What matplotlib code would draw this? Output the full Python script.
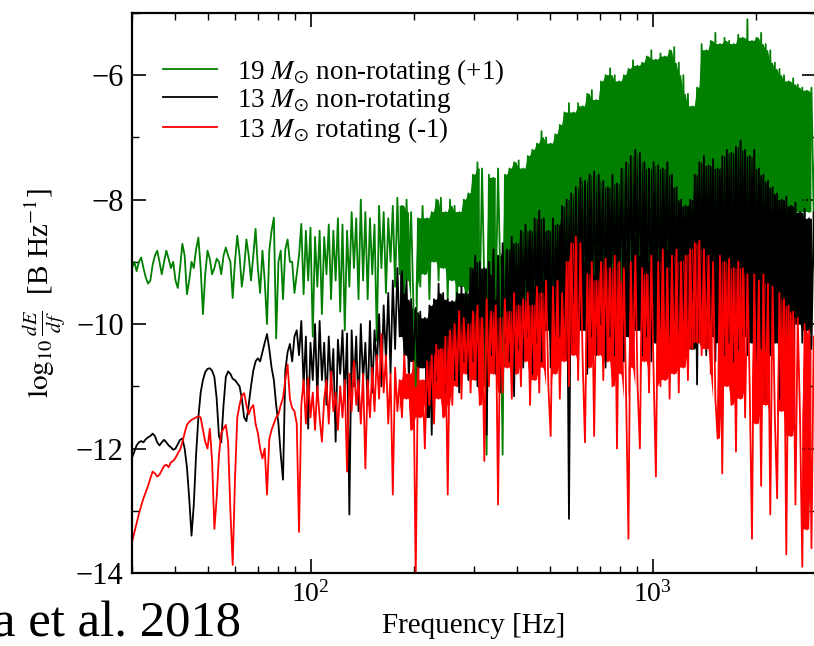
import matplotlib
matplotlib.use('Agg')
import matplotlib.pyplot as plt
import numpy as np
from matplotlib.ticker import LogLocator, NullFormatter, MultipleLocator

# spectra are sampled on a log-spaced grid between these frequencies [Hz]
F_MIN, F_MAX = 30.0, 3000.0
# above this the spectra are too dense to show as a single trace
F_DENSE = 180.0

# log10 dE/df [B Hz^-1], unshifted
dEdf_19_nonrot = [
    -10.1, -10.0, -10.15, -10.0, -9.93, -10.1, -10.25, -10.35, -10.3, -10.05,
    -9.9, -9.82, -10.0, -10.2, -10.0, -9.82, -9.95, -10.1, -10.0, -10.3,
    -10.42, -10.1, -9.71, -9.9, -10.52, -10.3, -10.0, -10.1, -9.8, -9.61,
    -10.1, -10.84, -10.2, -9.82, -9.95, -10.2, -10.1, -9.95, -10.0, -10.2,
    -9.9, -9.77, -9.9, -10.0, -10.58, -10.0, -9.58, -9.9, -10.4, -10.1,
    -9.64, -9.9, -10.3, -9.9, -9.47, -10.1, -10.5, -9.82, -10.3, -11.0,
    -9.82, -9.5, -9.29, -11.23, -10.0, -9.82, -10.6, -9.8, -9.64, -10.0,
    -10.0, -10.5, -10.2, -9.9, -9.39, -10.52, -9.5, -10.3, -9.45, -11.2,
    -9.6, -10.4, -9.5, -10.84, -9.6, -10.2, -9.4, -10.6, -9.5, -10.3,
    -9.3, -10.8, -9.4, -11.1, -9.5, -10.4, -9.2, -10.1, -9.3, -10.6,
    -9.0, -10.3, -9.2, -10.6, -9.3, -10.2, -9.4, -11.27, -9.1, -10.1,
    -9.2, -10.5, -9.3, -10.0, -9.1, -10.4, -8.97, -10.2, -9.1, -10.5,
    -9.0, -10.3, -9.2, -10.7, -12.0, -9.3, -10.4, -9.1, -10.2, -9.3,
    -10.6, -9.2, -10.0, -9.0, -10.3, -8.97, -10.1, -9.2, -10.6, -9.0,
    -10.3, -9.1, -10.8, -9.2, -10.4, -9.0, -10.8, -8.9, -10.5, -8.6,
    -10.3, -8.4, -10.7, -8.5, -10.4, -13.1, -8.6, -10.2, -8.65, -10.6,
    -8.5, -10.3, -13.1, -8.6, -10.5, -8.5, -10.0, -8.4, -10.4, -8.37,
    -10.2, -8.5, -10.6, -8.3, -10.0, -8.2, -10.4, -8.1, -9.9, -7.9,
    -10.3, -8.0, -9.8, -8.1, -10.5, -7.95, -10.0, -7.8, -9.7, -7.6,
    -10.2, -7.45, -9.9, -7.6, -10.4, -7.45, -9.6, -7.5, -10.0, -7.3,
    -9.7, -7.24, -10.2, -7.4, -9.8, -7.1, -10.0, -7.0, -9.6, -6.89,
    -10.1, -7.0, -9.7, -7.1, -10.3, -7.0, -9.8, -6.9, -10.0, -6.76,
    -9.6, -6.85, -9.9, -6.8, -9.5, -6.7, -10.0, -6.6, -9.7, -6.75,
    -9.9, -6.65, -9.6, -6.7, -9.8, -6.6, -9.5, -6.55, -9.7, -6.8,
    -9.4, -7.0, -9.3, -7.3, -9.2, -7.5, -9.3, -7.2, -9.2, -6.5,
    -9.3, -6.6, -9.1, -6.45, -9.25, -6.32, -9.2, -6.5, -9.3, -6.4,
    -9.2, -6.45, -9.3, -6.5, -9.15, -6.35, -9.25, -6.4, -9.2, -6.1,
    -9.3, -6.45, -9.2, -6.4, -9.25, -6.32, -9.1, -6.5, -9.3, -6.6,
    -9.2, -6.8, -9.25, -6.9, -9.15, -7.0, -9.3, -7.1, -9.2, -7.05,
    -9.25, -7.15, -9.2, -7.2, -9.3, -7.25, -9.2, -7.2, -9.3, -7.3,
]

dEdf_13_nonrot = [
    -12.15, -12.05, -11.95, -11.9, -11.88, -11.9, -11.85, -11.82, -11.8, -11.76,
    -11.8, -11.9, -11.95, -11.9, -11.86, -11.9, -11.95, -11.98, -12.02, -12.0,
    -11.93, -11.86, -11.84, -12.0, -12.3, -12.8, -13.4, -12.9, -12.1, -11.5,
    -11.1, -10.9, -10.77, -10.72, -10.71, -10.75, -10.85, -11.2, -11.8, -11.9,
    -11.3, -10.85, -10.76, -10.8, -10.88, -10.9, -10.95, -11.0, -11.2, -11.5,
    -11.56, -11.3, -11.0, -10.75, -10.6, -10.55, -10.6, -10.45, -10.3, -10.16,
    -10.4, -10.7, -10.9, -11.3, -11.6, -12.1, -12.5, -10.75, -10.45, -10.32,
    -10.6, -10.2, -10.1, -10.5, -9.95, -11.0, -10.2, -11.68, -10.3, -10.9,
    -10.0, -11.2, -9.95, -10.9, -10.3, -11.3, -10.2, -11.0, -10.4, -11.89,
    -10.25, -10.8, -10.1, -11.2, -10.15, -13.06, -10.1, -11.0, -10.2, -11.4,
    -10.0, -10.9, -10.3, -11.3, -9.95, -11.1, -10.1, -10.7, -9.84, -11.0,
    -9.7, -10.6, -9.5, -10.8, -9.3, -10.4, -9.1, -10.2, -9.15, -10.5,
    -9.3, -10.9, -9.6, -10.6, -9.74, -11.0, -9.8, -10.7, -9.9, -11.5,
    -9.7, -11.78, -9.6, -10.9, -9.35, -10.6, -9.5, -11.1, -9.6, -10.5,
    -9.63, -10.9, -9.5, -11.1, -9.4, -10.6, -9.5, -10.9, -9.1, -10.6,
    -8.9, -11.0, -9.0, -10.4, -9.1, -11.78, -9.0, -10.5, -8.8, -10.8,
    -8.9, -11.1, -8.7, -10.3, -8.8, -10.6, -8.6, -11.16, -8.7, -10.4,
    -8.5, -10.7, -8.4, -10.2, -8.5, -10.8, -8.3, -10.3, -8.18, -10.6,
    -8.3, -10.1, -8.5, -10.7, -8.3, -10.4, -8.4, -10.2, -8.1, -10.5,
    -8.0, -13.13, -7.9, -10.3, -7.8, -10.6, -7.65, -10.1, -7.7, -10.8,
    -7.6, -10.2, -7.55, -10.5, -7.6, -10.0, -7.7, -10.7, -7.8, -10.2,
    -7.6, -10.5, -7.74, -10.0, -7.5, -10.6, -7.4, -10.2, -7.3, -10.4,
    -7.2, -10.1, -7.25, -10.5, -7.4, -10.2, -7.5, -10.6, -7.4, -10.3,
    -7.45, -10.5, -7.5, -10.1, -7.4, -10.4, -7.6, -10.2, -7.8, -10.5,
    -8.0, -10.3, -8.1, -10.6, -8.0, -10.4, -7.6, -10.97, -7.4, -10.3,
    -7.3, -10.5, -7.45, -10.2, -7.35, -10.6, -7.5, -10.3, -7.3, -10.5,
    -7.2, -10.3, -7.25, -10.6, -7.15, -10.4, -7.05, -10.2, -7.2, -10.5,
    -7.3, -10.3, -7.2, -10.6, -7.5, -10.4, -7.6, -11.24, -7.7, -10.5,
    -7.8, -10.3, -7.9, -11.2, -8.0, -10.5, -7.95, -10.2, -8.1, -10.4,
    -8.05, -10.0, -8.2, -10.3, -8.15, -10.1, -8.3, -10.4, -8.2, -10.2,
]

dEdf_13_rot = [
    -12.5, -12.35, -12.2, -12.05, -11.92, -11.8, -11.7, -11.6, -11.48, -11.37,
    -11.4, -11.45, -11.42, -11.35, -11.28, -11.26, -11.3, -11.22, -11.2, -11.15,
    -11.08, -11.02, -10.9, -10.75, -10.62, -10.57, -10.54, -10.52, -10.5, -10.48,
    -10.5, -10.7, -10.89, -11.0, -10.68, -11.2, -12.29, -11.8, -11.1, -10.75,
    -10.68, -10.62, -10.9, -12.0, -12.87, -11.5, -10.5, -10.3, -10.15, -10.11,
    -10.3, -10.45, -10.35, -10.3, -10.6, -10.75, -11.0, -11.16, -11.0, -11.74,
    -10.85, -10.7, -10.6, -10.5, -10.45, -10.3, -10.19, -9.9, -9.65, -10.2,
    -10.35, -10.4, -10.6, -12.34, -10.3, -9.9, -10.6, -9.87, -10.5, -10.1,
    -10.7, -10.0, -10.5, -10.89, -10.2, -9.9, -10.6, -9.76, -10.4, -10.1,
    -10.7, -10.0, -10.5, -9.9, -11.37, -9.8, -10.4, -9.6, -10.3, -9.9,
    -10.6, -9.8, -11.32, -9.9, -10.5, -9.7, -10.4, -9.5, -10.2, -9.16,
    -10.1, -9.5, -10.6, -9.8, -11.74, -9.7, -10.4, -9.9, -10.5, -9.5,
    -10.2, -9.8, -10.7, -9.6, -13.1, -9.7, -10.5, -9.9, -11.0, -9.6,
    -10.3, -9.5, -10.6, -9.33, -10.2, -9.4, -10.5, -9.2, -11.74, -9.1,
    -10.3, -9.0, -10.0, -8.79, -10.2, -8.9, -9.8, -9.0, -10.1, -8.8,
    -9.9, -8.7, -10.3, -8.9, -11.2, -8.6, -10.0, -8.8, -9.8, -8.7,
    -11.9, -8.9, -10.1, -8.6, -9.7, -8.8, -10.2, -8.5, -9.8, -8.7,
    -10.0, -8.6, -9.6, -8.5, -10.3, -8.7, -9.9, -8.4, -10.1, -8.5,
    -9.7, -8.3, -10.0, -10.8, -8.4, -9.8, -8.3, -10.2, -8.5, -9.6,
    -8.0, -10.0, -7.7, -9.5, -7.6, -9.9, -7.7, -9.6, -10.9, -8.2,
    -9.7, -8.0, -10.8, -8.3, -9.5, -8.0, -9.9, -7.95, -9.6, -8.1,
    -10.0, -7.9, -11.0, -8.0, -9.8, -8.1, -10.2, -12.45, -8.0, -9.7,
    -7.9, -10.0, -11.0, -8.1, -9.6, -8.2, -10.1, -7.9, -9.8, -11.45,
    -8.0, -10.0, -7.8, -9.9, -8.1, -10.2, -7.9, -9.8, -7.8, -10.1,
    -8.0, -9.7, -7.9, -9.9, -7.8, -9.4, -7.7, -9.3, -7.66, -9.5,
    -7.8, -9.4, -7.9, -9.8, -8.0, -10.2, -10.84, -7.9, -11.4, -8.0,
    -10.0, -7.95, -10.3, -8.1, -11.05, -8.0, -10.2, -8.1, -10.5, -8.2,
    -10.0, -12.45, -8.2, -10.6, -8.3, -11.6, -8.2, -10.3, -8.35, -12.06,
    -8.4, -10.5, -11.8, -8.5, -10.4, -8.6, -12.7, -8.7, -10.8, -8.8,
    -11.9, -8.9, -10.5, -12.9, -9.0, -12.3, -9.1, -12.6, -9.2, -10.9,
]

labels = [r'19 $M_{\odot}$ non-rotating (+1)',
          r'13 $M_{\odot}$ non-rotating',
          r'13 $M_{\odot}$ rotating (-1)']
offsets = [1.0, 0.0, -1.0]
colors = ['#007f00', 'black', '#ff0000']


def band(v):
    # lower/upper edge of the oscillating trace; isolated spikes are left out
    # so they stay thin and only the line draws them
    pp = np.pad(v, (1, 2), mode='edge')
    a, b, c, d = pp[:-3], pp[1:-2], pp[2:-1], pp[3:]
    hi = np.minimum(np.maximum(b, c), np.maximum(a, d))
    lo = np.maximum(np.minimum(b, c), np.minimum(a, d))
    return lo, hi


def main():
    plt.rcParams.update({
        'font.family': 'serif',
        'font.serif': ['Liberation Serif', 'DejaVu Serif'],
        'mathtext.fontset': 'stix',
        'axes.linewidth': 1.6,
    })

    fig = plt.figure(figsize=(8.14, 6.46), dpi=100)
    ax = fig.add_axes([0.1622, 0.113, 0.8403, 0.867])

    spectra = [dEdf_19_nonrot, dEdf_13_nonrot, dEdf_13_rot]
    for spec, off, col, lab in zip(spectra, offsets, colors, labels):
        vals = np.asarray(spec) + off
        freq = np.geomspace(F_MIN, F_MAX, len(vals))
        ax.plot(freq, vals, color=col, lw=1.3, label=lab)
        lo, hi = band(vals)
        ax.fill_between(freq, lo, hi, where=(freq >= F_DENSE) & (hi > lo),
                        color=col, lw=0)

    ax.set_xscale('log')
    ax.set_xlim(F_MIN, F_MAX)
    ax.set_ylim(-14, -5)

    ax.xaxis.set_minor_locator(LogLocator(base=10, subs=np.arange(2, 10)))
    ax.xaxis.set_minor_formatter(NullFormatter())
    ax.yaxis.set_major_locator(MultipleLocator(2))
    ax.yaxis.set_minor_locator(MultipleLocator(1))

    ax.tick_params(which='both', direction='in', top=True, right=True)
    ax.tick_params(which='major', length=10, width=1.2, pad=6)
    ax.tick_params(which='minor', length=5, width=1.0)
    ax.tick_params(axis='y', which='major', labelsize=22)
    ax.tick_params(axis='x', which='major', labelsize=20)

    ax.set_xlabel('Frequency [Hz]', fontsize=21)
    ax.set_ylabel(r'$\log_{10}\frac{dE}{df}$  [B Hz$^{-1}$]', fontsize=21,
                  labelpad=6)

    ax.legend(loc='upper left', bbox_to_anchor=(0.045, 0.922), frameon=False,
              fontsize=19.5, borderpad=0, borderaxespad=0, handlelength=2.0,
              handletextpad=0.75, labelspacing=0.0)

    # citation text running off the lower-left corner
    fig.text(-0.008, 0.014, 'a et al. 2018', fontsize=36.5,
             family='Liberation Serif', va='baseline', ha='left')

    fig.savefig('out.png', dpi=100)


if __name__ == '__main__':
    main()
